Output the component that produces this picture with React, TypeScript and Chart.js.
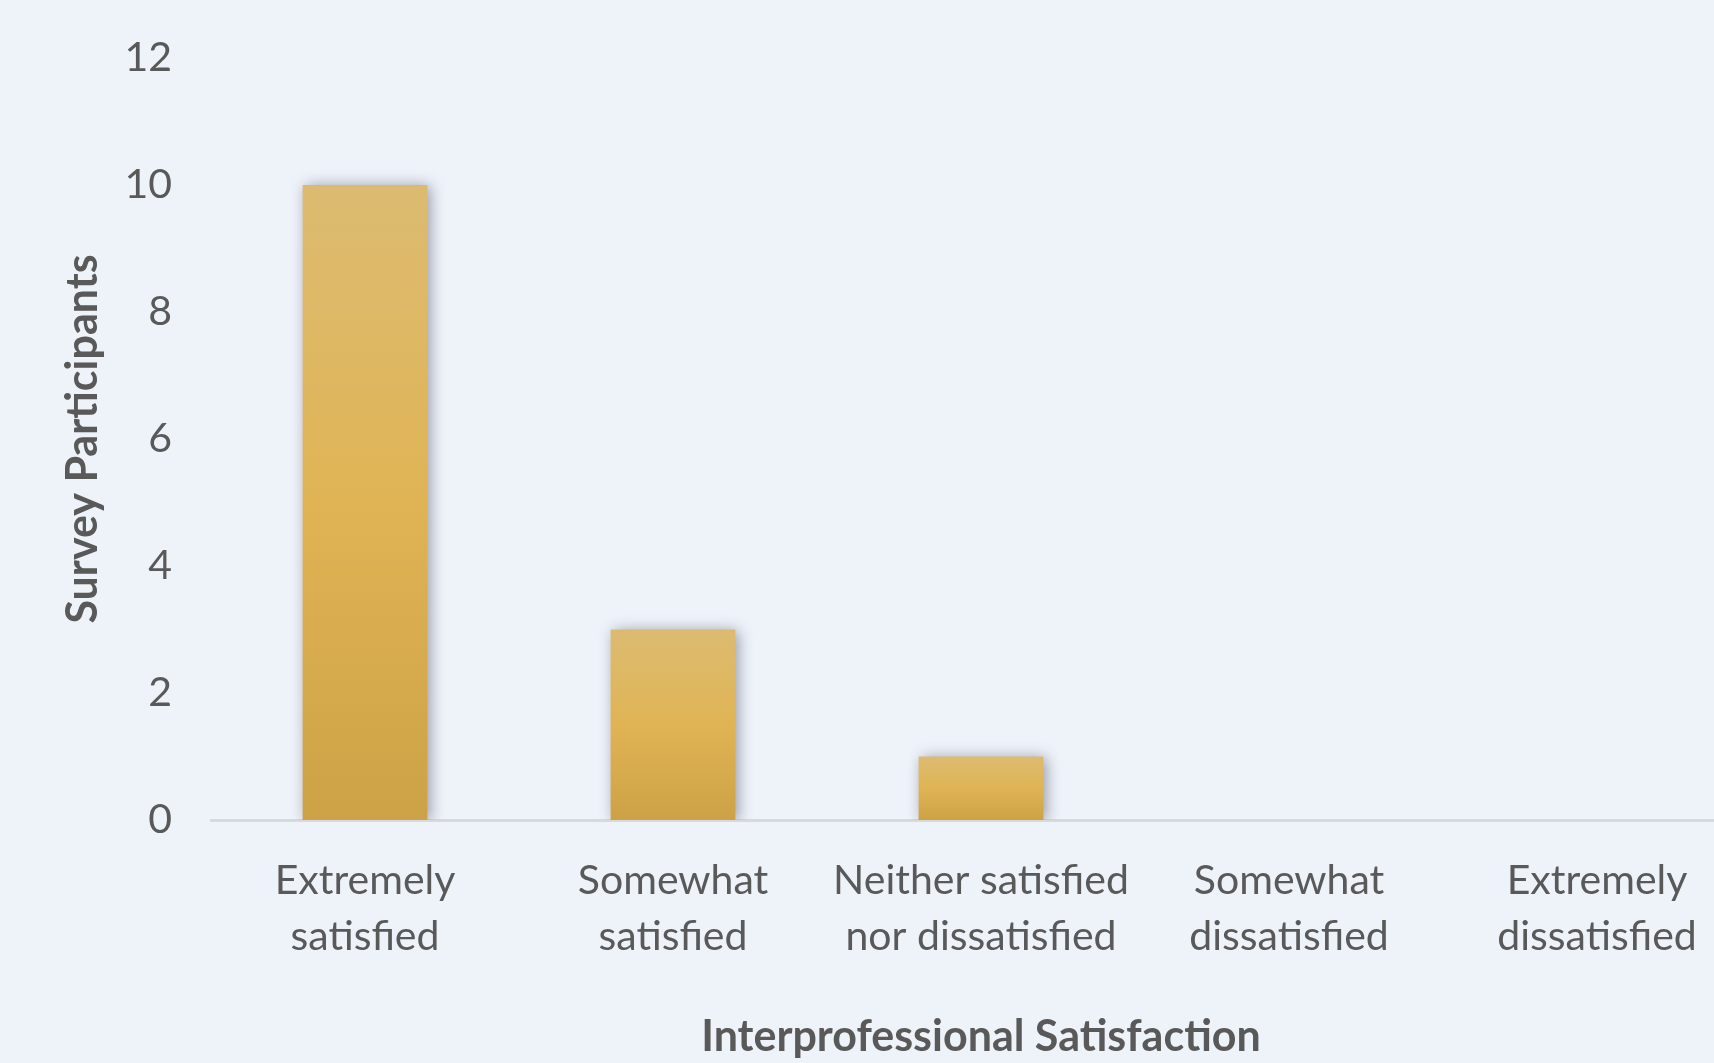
import { useEffect, useRef } from "react";
import { Chart, registerables } from "chart.js";

Chart.register(...registerables);

const categories: string[][] = [
  ["Extremely", "satisfied"],
  ["Somewhat", "satisfied"],
  ["Neither satisfied", "nor dissatisfied"],
  ["Somewhat", "dissatisfied"],
  ["Extremely", "dissatisfied"],
];
const participants: number[] = [10, 3, 1, 0, 0];
const yMin = 0;
const yMax = 12;
const yStep = 2;
const yAxisTitle = "Survey Participants";
const xAxisTitle = "Interprofessional Satisfaction";

const BG = "#EEF2F9";
const TEXT = "#595959";
const FONT = "Lato, 'Open Sans', sans-serif";

const CANVAS_W = 1790;
const CANVAS_H = 1063;

const shadowPlugin = {
  id: "barShadow",
  beforeDatasetsDraw(chart: any) {
    const c = chart.ctx;
    c.save();
    c.shadowColor = "rgba(40,40,60,0.45)";
    c.shadowBlur = 14;
    c.shadowOffsetX = 3;
    c.shadowOffsetY = 1;
  },
  afterDatasetsDraw(chart: any) {
    chart.ctx.restore();
  },
};

export default function App() {
  const ref = useRef<HTMLCanvasElement | null>(null);

  useEffect(() => {
    document.body.style.margin = "0";
    document.body.style.overflow = "hidden";
    document.body.style.background = BG;
    const canvas = ref.current;
    if (!canvas) return;
    const chart = new Chart(canvas, {
      type: "bar",
      data: {
        labels: categories,
        datasets: [
          {
            data: participants,
            backgroundColor: (ctx: any) => {
              const ch = ctx.chart;
              if (!ch.chartArea || ctx.type !== "data") return "#DDB35A";
              const ys = ch.scales.y;
              const top = ys.getPixelForValue(ctx.raw);
              const base = ys.getPixelForValue(0);
              if (base - top < 1) return "#DDB35A";
              const g = ch.ctx.createLinearGradient(0, top, 0, base);
              g.addColorStop(0, "#DCBB71");
              g.addColorStop(0.5, "#E0B455");
              g.addColorStop(1, "#CDA246");
              return g;
            },
            borderWidth: 0,
            categoryPercentage: 1,
            barPercentage: 0.405,
          },
        ],
      },
      options: {
        animation: false,
        responsive: false,
        maintainAspectRatio: false,
        layout: { padding: { top: 58, right: CANVAS_W - 1751, bottom: 0, left: 0 } },
        plugins: {
          legend: { display: false },
          tooltip: { enabled: false },
        },
        scales: {
          x: {
            grid: { display: false, drawTicks: false },
            border: { display: true, color: "#D9D9D9", width: 3 },
            ticks: {
              color: TEXT,
              font: { family: FONT, size: 41, lineHeight: 1.36 },
              padding: 33,
              maxRotation: 0,
              autoSkip: false,
            },
            title: {
              display: true,
              text: xAxisTitle,
              color: TEXT,
              font: { family: FONT, size: 43, weight: "bold", lineHeight: 1.2 },
              padding: { top: 3, bottom: 0 },
            },
            afterFit: (s: any) => {
              s.height = CANVAS_H - 820;
            },
          },
          y: {
            min: yMin,
            max: yMax,
            grid: { display: false, drawTicks: false },
            border: { display: false },
            ticks: {
              stepSize: yStep,
              color: TEXT,
              font: { family: FONT, size: 41 },
              padding: 39,
            },
            title: {
              display: true,
              text: yAxisTitle,
              color: TEXT,
              font: { family: FONT, size: 43, weight: "bold", lineHeight: 1.2 },
              padding: { top: 57, bottom: 0 },
            },
            afterFit: (s: any) => {
              s.width = 211;
              s.paddingTop = 0;
              s.paddingBottom = 0;
            },
          },
        },
      },
      plugins: [shadowPlugin],
    });
    return () => chart.destroy();
  }, []);

  return (
    <div
      style={{
        width: "1714px",
        height: "1063px",
        overflow: "hidden",
        background: BG,
        position: "relative",
      }}
    >
      <canvas
        ref={ref}
        width={CANVAS_W}
        height={CANVAS_H}
        style={{ display: "block", width: CANVAS_W + "px", height: CANVAS_H + "px" }}
      />
    </div>
  );
}
